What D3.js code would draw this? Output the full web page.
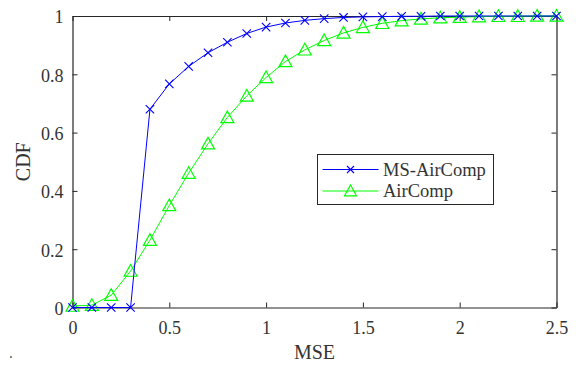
<!DOCTYPE html>
<html>
<head>
<meta charset="utf-8">
<script src="https://cdn.jsdelivr.net/npm/d3@7/dist/d3.min.js"></script>
<style>
  html, body { margin: 0; padding: 0; background: #fff; }
  svg { display: block; }
</style>
</head>
<body>
<svg id="chart" width="576" height="365" font-family="Liberation Serif"></svg>
<script>
const mseValues = [0, 0.1, 0.2, 0.3, 0.4, 0.5, 0.6, 0.7, 0.8, 0.9, 1.0, 1.1, 1.2, 1.3, 1.4, 1.5, 1.6, 1.7, 1.8, 1.9, 2.0, 2.1, 2.2, 2.3, 2.4, 2.5];
const msAirCompCdf = [0, 0, 0, 0, 0.68, 0.767, 0.827, 0.874, 0.910, 0.940, 0.962, 0.976, 0.985, 0.991, 0.995, 0.997, 0.998, 0.999, 0.999, 1, 1, 1, 1, 1, 1, 1];
const airCompCdf = [0.005, 0.008, 0.042, 0.125, 0.231, 0.350, 0.461, 0.562, 0.652, 0.726, 0.789, 0.844, 0.884, 0.916, 0.942, 0.961, 0.975, 0.984, 0.990, 0.994, 0.996, 0.998, 0.999, 0.999, 1, 1];
const seriesNames = ["MS-AirComp", "AirComp"];
const xTicks = [0, 0.5, 1, 1.5, 2, 2.5];
const yTicks = [0, 0.2, 0.4, 0.6, 0.8, 1];
const xLabel = "MSE";
const yLabel = "CDF";

const FONT = "Liberation Serif";
const svg = d3.select("#chart");
const L = 72.5, R = 556.5, T = 16, B = 307.5;
const x = d3.scaleLinear().domain([0, 2.5]).range([L, R]);
const y = d3.scaleLinear().domain([0, 1]).range([B, T]);
const axisColor = "#262626";
const textColor = "#333333";
const tickFmt = d => d3.format("~g")(d);

const gx = svg.append("g").attr("transform", `translate(0,${B})`)
  .call(d3.axisBottom(x).tickValues(xTicks).tickSizeInner(-5).tickSizeOuter(0).tickPadding(14).tickFormat(tickFmt));
const gxTop = svg.append("g").attr("transform", `translate(0,${T})`)
  .call(d3.axisTop(x).tickValues(xTicks).tickSizeInner(-5).tickSizeOuter(0).tickFormat(""));
const gy = svg.append("g").attr("transform", `translate(${L},0)`)
  .call(d3.axisLeft(y).tickValues(yTicks).tickSizeInner(-5).tickSizeOuter(0).tickPadding(9).tickFormat(tickFmt));
const gyR = svg.append("g").attr("transform", `translate(${R},0)`)
  .call(d3.axisRight(y).tickValues(yTicks).tickSizeInner(-5).tickSizeOuter(0).tickFormat(""));
[gx, gxTop, gy, gyR].forEach(g => {
  g.attr("font-family", FONT).attr("font-size", 18);
  g.selectAll("path.domain").attr("stroke", axisColor).attr("stroke-width", 1.2);
  g.selectAll(".tick line").attr("stroke", axisColor).attr("stroke-width", 1);
  g.selectAll(".tick text").attr("fill", textColor);
});
gy.selectAll(".tick text").attr("dy", "0.38em");

svg.append("text").attr("x", (L + R) / 2).attr("y", 359).attr("text-anchor", "middle")
  .attr("font-family", FONT).attr("font-size", 20).attr("fill", textColor).text(xLabel);
svg.append("text").attr("transform", `translate(30,${(T + B) / 2}) rotate(-90)`).attr("text-anchor", "middle")
  .attr("font-family", FONT).attr("font-size", 20).attr("fill", textColor).text(yLabel);

const line = d3.line().x(d => x(d[0])).y(d => y(d[1]));
const blueData = mseValues.map((v, i) => [v, msAirCompCdf[i]]);
const greenData = mseValues.map((v, i) => [v, airCompCdf[i]]);

function crossPath(s) { return `M${-s},${-s}L${s},${s}M${-s},${s}L${s},${-s}`; }
function triPath(s) { return `M0,${-s}L${s},${s * 0.8}L${-s},${s * 0.8}Z`; }

svg.append("path").datum(greenData).attr("d", line).attr("fill", "none").attr("stroke", "#00ff00").attr("stroke-width", 1);
svg.append("g").selectAll("path").data(greenData).join("path")
  .attr("transform", d => `translate(${x(d[0])},${y(d[1])})`)
  .attr("d", triPath(6.5)).attr("fill", "none").attr("stroke", "#00ff00").attr("stroke-width", 1.2);

svg.append("path").datum(blueData).attr("d", line).attr("fill", "none").attr("stroke", "#0000ff").attr("stroke-width", 1);
svg.append("g").selectAll("path").data(blueData).join("path")
  .attr("transform", d => `translate(${x(d[0])},${y(d[1])})`)
  .attr("d", crossPath(4.2)).attr("fill", "none").attr("stroke", "#0000ff").attr("stroke-width", 1.1);

const lg = svg.append("g");
lg.append("rect").attr("x", 317.5).attr("y", 154.5).attr("width", 176).attr("height", 50)
  .attr("fill", "#fff").attr("stroke", "#262626").attr("stroke-width", 1);
const legendRows = [
  { name: seriesNames[0], color: "#0000ff", marker: crossPath(3.5), yy: 169.5, mw: 1.1 },
  { name: seriesNames[1], color: "#00ff00", marker: triPath(6), yy: 191, mw: 1.2 }
];
legendRows.forEach(r => {
  lg.append("line").attr("x1", 322.5).attr("x2", 378.5).attr("y1", r.yy).attr("y2", r.yy)
    .attr("stroke", r.color).attr("stroke-width", 1);
  lg.append("path").attr("transform", `translate(350.5,${r.yy})`).attr("d", r.marker)
    .attr("fill", "none").attr("stroke", r.color).attr("stroke-width", r.mw);
  lg.append("text").attr("x", 383).attr("y", r.yy).attr("dy", "0.35em")
    .attr("font-family", FONT).attr("font-size", 18.5).attr("fill", textColor).text(r.name);
});

svg.append("rect").attr("x", 10).attr("y", 356).attr("width", 2).attr("height", 2).attr("fill", "#8a8a70");
</script>
</body>
</html>
